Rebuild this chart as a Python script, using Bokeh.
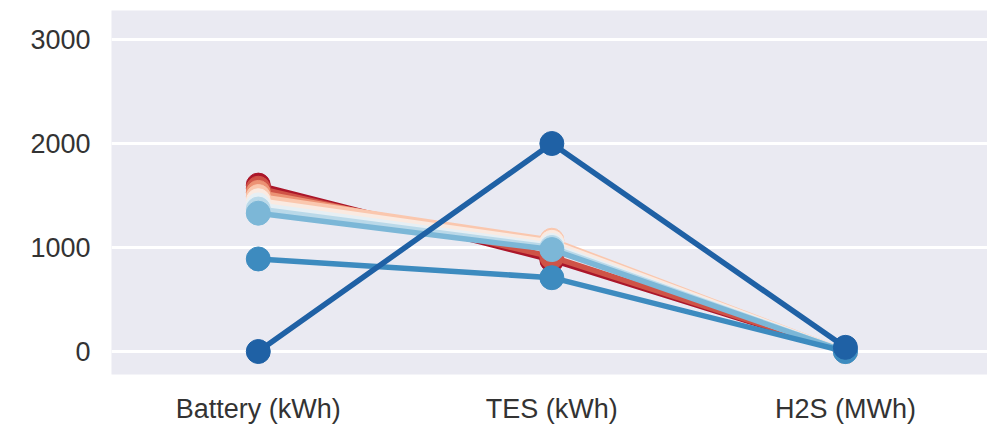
from bokeh.plotting import figure
from bokeh.models import Range1d, FixedTicker
from bokeh.embed import file_html
from bokeh.resources import INLINE

# Storage capacities per scenario (one line per scenario)
categories = ["Battery (kWh)", "TES (kWh)", "H2S (MWh)"]
y_ticks = [0, 1000, 2000, 3000]

s1 = [1600, 880, 0]
s2 = [1570, 910, 0]
s3 = [1530, 1000, 0]
s4 = [1490, 1070, 0]
s5 = [1450, 1050, 0]
s6 = [1410, 1020, 0]
s7 = [1370, 1000, 0]
s8 = [1330, 980, 0]
s9 = [890, 710, 0]
s10 = [0, 2000, 40]
series = [s1, s2, s3, s4, s5, s6, s7, s8, s9, s10]

# RdBu palette, 10 steps
palette = ["#AB162A", "#CF5347", "#EC9274", "#FAC7AE", "#FAEAE1",
           "#E6EFF4", "#BAD9E9", "#7CB7D7", "#3D8BBF", "#1F61A5"]

xs = list(range(len(categories)))

p = figure(width=987, height=426, output_backend="svg", toolbar_location=None,
           x_range=Range1d(-0.5, 2.484), y_range=Range1d(-221, 3279),
           min_border_left=111, min_border_right=0, min_border_top=10,
           min_border_bottom=52)

p.background_fill_color = "#EAEAF2"
p.border_fill_color = "white"
p.outline_line_color = None

p.xgrid.grid_line_color = None
p.ygrid.grid_line_color = "white"
p.ygrid.grid_line_width = 3
p.ygrid.ticker = FixedTicker(ticks=y_ticks)

for vals, col in zip(series, palette):
    p.line(xs, vals, line_color=col, line_width=5.5)
    p.scatter(xs, vals, marker="circle", size=24, fill_color=col, line_color=col)

p.xaxis.ticker = FixedTicker(ticks=xs)
p.xaxis.major_label_overrides = {i: c for i, c in enumerate(categories)}
p.yaxis.ticker = FixedTicker(ticks=y_ticks)

for ax in (p.xaxis, p.yaxis):
    ax.axis_line_color = None
    ax.major_tick_line_color = None
    ax.minor_tick_line_color = None
    ax.major_label_text_font = "Liberation Sans"
    ax.major_label_text_font_size = "27px"
    ax.major_label_text_color = "#333333"

p.yaxis.major_label_standoff = 15
p.xaxis.major_label_standoff = 13

open("out.html", "w").write(file_html(p, INLINE))
